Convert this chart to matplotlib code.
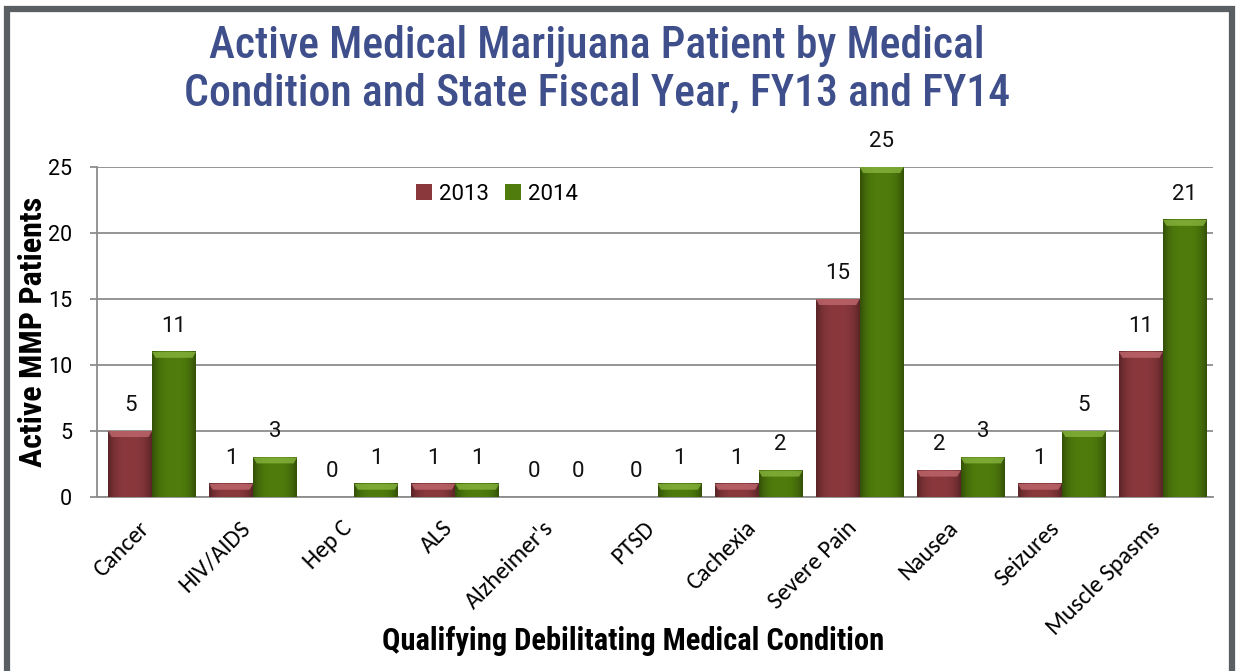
import matplotlib
matplotlib.use("Agg")
import matplotlib.pyplot as plt
import matplotlib.transforms as mtrans
import numpy as np
from matplotlib.patches import Rectangle, Polygon
from matplotlib.colors import to_rgb

categories = ["Cancer", "HIV/AIDS", "Hep C", "ALS", "Alzheimer's", "PTSD",
              "Cachexia", "Severe Pain", "Nausea", "Seizures", "Muscle Spasms"]
fy2013 = [5, 1, 0, 1, 0, 0, 1, 15, 2, 1, 11]
fy2014 = [11, 3, 1, 1, 0, 1, 2, 25, 3, 5, 21]
series_names = ["2013", "2014"]
yticks = [0, 5, 10, 15, 20, 25]

title_lines = ["Active Medical Marijuana Patient by Medical",
               "Condition and State Fiscal Year, FY13 and FY14"]

c13 = "#8A383C"
c14 = "#4F7C0C"
top13 = "#C0686E"
top14 = "#86B43C"

cond = ["Roboto Condensed", "DejaVu Sans"]
rob = ["Roboto", "DejaVu Sans"]
cal = ["Carlito", "DejaVu Sans"]

W, H = 1240, 671
fig = plt.figure(figsize=(W/100, H/100), dpi=100)
ax = fig.add_axes([97/W, 1-497/H, (1213-97)/W, (497-167)/H])

x = np.arange(len(categories))
w = 0.435
b1 = ax.bar(x - w/2, fy2013, w, color=c13, linewidth=0, label=series_names[0], zorder=3)
b2 = ax.bar(x + w/2, fy2014, w, color=c14, linewidth=0, label=series_names[1], zorder=3)

ax.set_xlim(-0.545, len(categories) - 1 + 0.495)
ax.set_ylim(0, 25)

# subtle bevel shading on each bar (derived from the bar rectangles)
px_to_data = 25 / 330.0
t = np.linspace(0, 1, 60)
shade = 1 - 0.35 * np.abs(2 * t - 1) ** 3
for bars, base, topc in ((b1, c13, top13), (b2, c14, top14)):
    rgb = np.array(to_rgb(base))
    img = np.clip(shade[:, None] * rgb[None, :], 0, 1)[None, :, :]
    for rect in bars:
        h = rect.get_height()
        if h <= 0:
            continue
        x0, x1 = rect.get_x(), rect.get_x() + rect.get_width()
        ax.imshow(img, extent=(x0, x1, 0, h), aspect="auto", zorder=3.1, interpolation="bilinear")
        bh = min(6 * px_to_data, h * 0.45)
        inset = rect.get_width() * 0.08
        ax.add_patch(Polygon([(x0, h), (x1, h), (x1 - inset, h - bh), (x0 + inset, h - bh)],
                             closed=True, facecolor=topc, edgecolor="none", alpha=0.8, zorder=3.2))

for bars, vals in ((b1, fy2013), (b2, fy2014)):
    for rect, v in zip(bars, vals):
        ax.annotate(str(v), (rect.get_x() + rect.get_width()/2, v),
                    xytext=(0, 11), textcoords="offset points",
                    ha="center", va="bottom", fontsize=16, family=rob, color="#111111")

ax.set_xlim(-0.545, len(categories) - 1 + 0.495)
ax.set_ylim(0, 25)
ax.set_yticks(yticks)
ax.yaxis.grid(True, color="#8C8C8C", linewidth=1.3, zorder=0)
ax.set_axisbelow(True)
for s in ("top", "right"):
    ax.spines[s].set_visible(False)
for s in ("left", "bottom"):
    ax.spines[s].set_color("#8C8C8C")
    ax.spines[s].set_linewidth(1.3)
ax.tick_params(axis="y", length=5, width=1.3, color="#8C8C8C", labelsize=15.5, pad=13)
ax.tick_params(axis="x", length=0, pad=20)
for lab in ax.get_yticklabels():
    lab.set_family(rob)

ax.set_xticks(x)
ax.set_xticklabels(categories, rotation=45, ha="right", va="center", rotation_mode="anchor",
                   fontsize=17.5, family=cal)
shift = mtrans.ScaledTranslation(-6/100, 0, fig.dpi_scale_trans)
for lab in ax.get_xticklabels():
    lab.set_transform(lab.get_transform() + shift)

ax.set_ylabel("Active MMP Patients", fontsize=23, fontweight="bold", family=cond,
              ha="center", va="center")
ax.yaxis.set_label_coords((33-97)/1116, 0.5)
ax.set_xlabel("Qualifying Debilitating Medical Condition", fontsize=22, fontweight="bold",
              family=cond)
ax.xaxis.set_label_coords((633-97)/1116, -(650-497)/330)
ax.xaxis.label.set_va("baseline")

ax.legend(loc="center left", bbox_to_anchor=(405/W, 1-194/H), bbox_transform=fig.transFigure,
          ncol=2, frameon=False, handlelength=0.7, handleheight=0.7, columnspacing=0.7,
          handletextpad=0.35, borderpad=0, prop={"family": rob, "size": 16})

fig.text(597/W, 1-58/H, title_lines[0], ha="center", va="baseline", fontsize=31.5,
         fontweight="medium", family=cond, color="#3F4F8B")
fig.text(597/W, 1-106/H, title_lines[1], ha="center", va="baseline", fontsize=31.5,
         fontweight="medium", family=cond, color="#3F4F8B")

# outer frame
fig.patches.append(Rectangle((7/W, -0.05), (1232-7)/W, 1.05 - 9/H,
                             transform=fig.transFigure, fill=False,
                             edgecolor="#5A5F63", linewidth=4.5))

fig.savefig("out.png", dpi=100)
